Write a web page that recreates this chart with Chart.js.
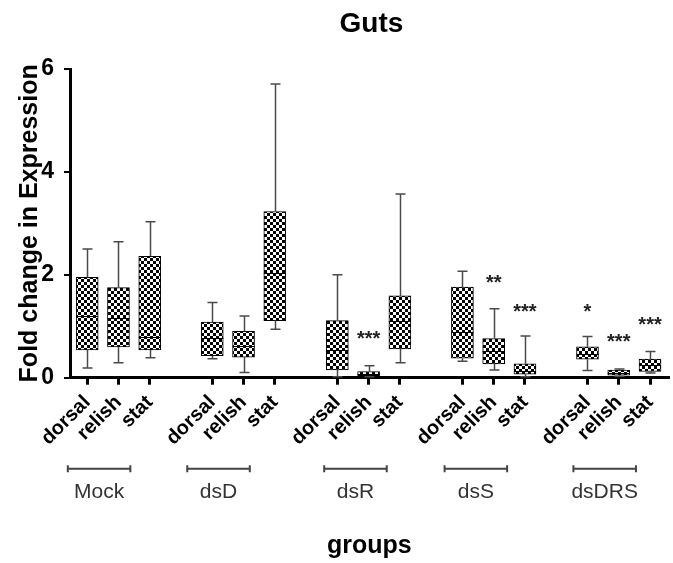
<!DOCTYPE html>
<html>
<head>
<meta charset="utf-8">
<script src="https://cdn.jsdelivr.net/npm/chart.js@4/dist/chart.umd.min.js"></script>
<style>
  html, body { margin: 0; padding: 0; background: #fff; }
  #wrap { width: 673px; height: 563px; }
</style>
</head>
<body>
<div id="wrap"><canvas id="guts"></canvas></div>
<script>
// slots on the x axis (an empty slot between groups)
const slots = [0, 1, 2, 4, 5, 6, 8, 9, 10, 12, 13, 14, 16, 17, 18];
const tickLabels = ['dorsal', 'relish', 'stat', 'dorsal', 'relish', 'stat', 'dorsal', 'relish', 'stat',
  'dorsal', 'relish', 'stat', 'dorsal', 'relish', 'stat'];
const groups = ['Mock', 'dsD', 'dsR', 'dsS', 'dsDRS'];
const groupCenters = [0.38, 4.2, 8.58, 12.43, 16.55];

// box plot values
const whiskerMin = [0.19, 0.29, 0.39, 0.37, 0.10, 0.94, 0.02, 0.02, 0.29, 0.32, 0.15, 0.02, 0.14, 0.03, 0.09];
const q1 = [0.54, 0.60, 0.54, 0.43, 0.40, 1.11, 0.15, 0.04, 0.56, 0.38, 0.27, 0.07, 0.36, 0.05, 0.12];
const median = [1.19, 1.17, 0.79, 0.77, 0.62, 2.03, 0.54, 0.08, 1.11, 0.89, 0.51, 0.13, 0.47, 0.10, 0.25];
const q3 = [1.95, 1.75, 2.36, 1.08, 0.90, 3.23, 1.11, 0.12, 1.59, 1.76, 0.76, 0.27, 0.60, 0.15, 0.36];
const whiskerMax = [2.50, 2.64, 3.03, 1.46, 1.20, 5.71, 2.00, 0.23, 3.57, 2.07, 1.34, 0.81, 0.80, 0.17, 0.51];

// significance marks
const starSlots = [9, 13, 14, 16, 17, 18];
const starText = ['***', '**', '***', '*', '***', '***'];
const starY = [0.84, 1.92, 1.36, 1.36, 0.79, 1.12];

const yTicks = [0, 2, 4, 6];

// checker pattern
const tile = document.createElement('canvas');
tile.width = 6; tile.height = 6;
const tc = tile.getContext('2d');
tc.fillStyle = '#fff'; tc.fillRect(0, 0, 6, 6);
tc.fillStyle = '#000';
tc.fillRect(0, 0, 3, 3);
tc.fillRect(3, 3, 3, 3);
const pattern = document.getElementById('guts').getContext('2d').createPattern(tile, 'repeat');

const boxExtras = {
  id: 'boxExtras',
  afterDatasetsDraw(chart) {
    const ctx = chart.ctx;
    const x = chart.scales.x, y = chart.scales.y;
    const area = chart.chartArea;
    ctx.save();
    // whiskers
    ctx.strokeStyle = '#4a4a4a';
    ctx.lineWidth = 1.5;
    slots.forEach((s, i) => {
      const px = Math.round(x.getPixelForValue(s)) + 0.5;
      ctx.beginPath();
      ctx.moveTo(px, y.getPixelForValue(q3[i]));
      ctx.lineTo(px, y.getPixelForValue(whiskerMax[i]));
      ctx.moveTo(px, y.getPixelForValue(q1[i]));
      ctx.lineTo(px, y.getPixelForValue(whiskerMin[i]));
      ctx.moveTo(px - 5, y.getPixelForValue(whiskerMax[i]));
      ctx.lineTo(px + 5, y.getPixelForValue(whiskerMax[i]));
      ctx.moveTo(px - 5, y.getPixelForValue(whiskerMin[i]));
      ctx.lineTo(px + 5, y.getPixelForValue(whiskerMin[i]));
      ctx.stroke();
    });
    // medians
    ctx.strokeStyle = '#000';
    ctx.lineWidth = 1;
    slots.forEach((s, i) => {
      const px = x.getPixelForValue(s);
      const py = Math.round(y.getPixelForValue(median[i])) + 0.5;
      ctx.beginPath();
      ctx.moveTo(px - 11, py);
      ctx.lineTo(px + 11, py);
      ctx.stroke();
    });
    // stars
    ctx.fillStyle = '#222';
    ctx.font = 'bold 20px "Liberation Sans", Arial, sans-serif';
    ctx.textAlign = 'center';
    ctx.textBaseline = 'middle';
    starSlots.forEach((s, i) => {
      ctx.fillText(starText[i], x.getPixelForValue(s), y.getPixelForValue(starY[i]) + 5);
    });
    // group brackets and names
    const by = area.bottom + 91;
    ctx.strokeStyle = '#444';
    ctx.lineWidth = 2;
    ctx.fillStyle = '#333';
    ctx.font = '21px "Liberation Sans", Arial, sans-serif';
    groups.forEach((g, i) => {
      const l = x.getPixelForValue(groupCenters[i] - 1);
      const r = x.getPixelForValue(groupCenters[i] + 1);
      ctx.beginPath();
      ctx.moveTo(l, by); ctx.lineTo(r, by);
      ctx.moveTo(l, by - 3.5); ctx.lineTo(l, by + 3.5);
      ctx.moveTo(r, by - 3.5); ctx.lineTo(r, by + 3.5);
      ctx.stroke();
      ctx.fillText(g, (l + r) / 2, area.bottom + 115);
    });
    // title
    ctx.fillStyle = '#000';
    ctx.font = 'bold 28px "Liberation Sans", Arial, sans-serif';
    ctx.textBaseline = 'alphabetic';
    ctx.fillText('Guts', (area.left + area.right) / 2 + 2, 32);
    ctx.restore();
  }
};

new Chart(document.getElementById('guts'), {
  type: 'bar',
  data: {
    datasets: [{
      data: slots.map((s, i) => ({ x: s, y: [q1[i], q3[i]] })),
      backgroundColor: pattern,
      borderColor: '#000',
      borderWidth: 1,
      borderSkipped: false,
      barThickness: 22
    }]
  },
  options: {
    responsive: true,
    maintainAspectRatio: false,
    animation: false,
    layout: { padding: { top: 69, left: 0, right: 0, bottom: 0 } },
    plugins: {
      legend: { display: false },
      tooltip: { enabled: false },
      title: { display: false }
    },
    scales: {
      x: {
        type: 'linear',
        offset: false,
        min: -0.55,
        max: 18.6,
        afterBuildTicks: (scale) => { scale.ticks = slots.map(v => ({ value: v })); },
        afterFit: (scale) => { scale.height = 185.3; },
        ticks: {
          autoSkip: false,
          minRotation: 45,
          maxRotation: 45,
          padding: 6,
          color: '#000',
          font: { family: '"Liberation Sans", Arial, sans-serif', size: 20, weight: 'bold' },
          callback: (v, i) => tickLabels[i]
        },
        grid: { offset: false, drawOnChartArea: false, drawTicks: true, tickLength: 7, color: '#000', lineWidth: 3 },
        border: { color: '#000', width: 3 },
        title: {
          display: true,
          text: 'groups',
          color: '#000',
          font: { family: '"Liberation Sans", Arial, sans-serif', size: 25, weight: 'bold' },
          padding: { top: 0, bottom: 2 }
        }
      },
      y: {
        min: 0,
        max: 6,
        afterBuildTicks: (scale) => { scale.ticks = yTicks.map(v => ({ value: v })); },
        afterFit: (scale) => { scale.width = 70; },
        ticks: {
          padding: 10,
          color: '#000',
          font: { family: '"Liberation Sans", Arial, sans-serif', size: 23, weight: 'bold' }
        },
        grid: { drawOnChartArea: false, drawTicks: true, tickLength: 6, color: '#000', lineWidth: 2 },
        border: { color: '#000', width: 3 },
        title: {
          display: true,
          text: 'Fold change in Expression',
          color: '#000',
          font: { family: '"Liberation Sans", Arial, sans-serif', size: 25, weight: 'bold' },
          padding: { top: 15, bottom: 0 }
        }
      }
    }
  },
  plugins: [boxExtras]
});
</script>
</body>
</html>
